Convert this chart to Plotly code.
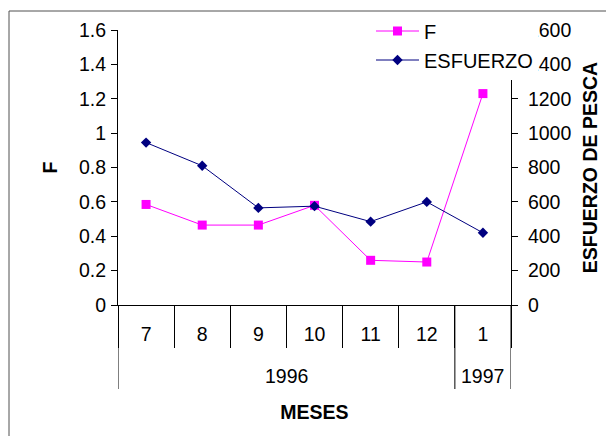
import plotly.graph_objects as go

# ---- data ----
years = ["1996", "1996", "1996", "1996", "1996", "1996", "1997"]
months = ["7", "8", "9", "10", "11", "12", "1"]
f_values = [0.585, 0.465, 0.465, 0.58, 0.26, 0.25, 1.23]
esfuerzo_values = [945, 810, 565, 575, 485, 600, 420]
f_tickvals = [0, 0.2, 0.4, 0.6, 0.8, 1.0, 1.2, 1.4, 1.6]
f_ticktext = ["0", "0.2", "0.4", "0.6", "0.8", "1", "1.2", "1.4", "1.6"]
esf_tickvals = [0, 200, 400, 600, 800, 1000, 1200, 1400, 1600]

W, H = 606, 436
L, R, T, B = 118, 511, 30, 305
PW, PH = R - L, B - T
FONT = "Liberation Sans, Arial, sans-serif"
FS = 19.5


def px_x(p):
    return (p - L) / PW


def px_y(p):
    return (B - p) / PH


# group consecutive months by year (outer category level)
groups = []
for i, yr in enumerate(years):
    if groups and groups[-1][0] == yr:
        groups[-1][2] = i
    else:
        groups.append([yr, i, i])

fig = go.Figure()
fig.add_trace(go.Scatter(
    x=months, y=f_values, name="F", mode="lines+markers",
    line=dict(color="#FF00FF", width=1),
    marker=dict(symbol="square", size=9, color="#FF00FF"),
    yaxis="y"))
fig.add_trace(go.Scatter(
    x=months, y=esfuerzo_values, name="ESFUERZO", mode="lines+markers",
    line=dict(color="#000080", width=1),
    marker=dict(symbol="diamond", size=8, color="#000080"),
    yaxis="y2"))

axis_common = dict(showgrid=False, zeroline=False, linecolor="black", linewidth=1,
                   tickcolor="black", tickwidth=1, tickfont=dict(size=FS, color="black"))

annotations = []
shapes = []
for yr, s, e in groups:
    annotations.append(dict(text=yr, xref="x", yref="paper", x=(s + e) / 2, y=px_y(376),
                            xanchor="center", yanchor="middle", showarrow=False,
                            font=dict(size=FS, color="black")))
    shapes.append(dict(type="line", xref="x", yref="paper", x0=s - 0.5, x1=s - 0.5,
                       y0=0, y1=px_y(389), line=dict(color="black", width=1)))
shapes.append(dict(type="line", xref="x", yref="paper",
                   x0=groups[-1][2] + 0.5, x1=groups[-1][2] + 0.5,
                   y0=0, y1=px_y(389), line=dict(color="black", width=1)))
# outer chart-area border
shapes.append(dict(type="rect", xref="paper", yref="paper",
                   x0=px_x(9), x1=px_x(640), y0=px_y(470), y1=px_y(11),
                   line=dict(color="#505050", width=1), layer="above"))

fig.update_layout(
    width=W, height=H,
    margin=dict(l=L, r=W - R, t=T, b=H - B, pad=0),
    paper_bgcolor="white", plot_bgcolor="white",
    font=dict(family=FONT, size=FS, color="black"),
    xaxis=dict(type="category", categoryorder="array", categoryarray=months,
               range=[-0.5, len(months) - 0.5], showline=True,
               ticks="outside", tickson="boundaries", ticklen=42, ticklabelstandoff=12,
               title=dict(text="<b>MESES</b>", font=dict(size=FS), standoff=60),
               automargin=False, **axis_common),
    yaxis=dict(range=[0, 1.6], tickvals=f_tickvals, ticktext=f_ticktext,
               showline=True, ticks="outside", ticklen=6, ticklabelstandoff=1,
               title=dict(text="<b>F</b>", font=dict(size=FS), standoff=16),
               automargin=False, **axis_common),
    yaxis2=dict(range=[0, 1600], tickvals=esf_tickvals, overlaying="y", side="right",
                anchor="x", showline=True, ticks="outside", ticklen=6, ticklabelstandoff=6,
                title=dict(text="<b>ESFUERZO DE PESCA</b>", font=dict(size=FS), standoff=12),
                automargin=False, **axis_common),
    yaxis3=dict(range=[0, 1.6], tickvals=f_tickvals, overlaying="y", side="left",
                anchor="x", showline=False, ticks="inside", ticklen=6,
                showticklabels=False, **axis_common),
    yaxis4=dict(range=[0, 1600], tickvals=esf_tickvals, overlaying="y", side="right",
                anchor="x", showline=False, ticks="inside", ticklen=6,
                showticklabels=False, **axis_common),
    legend=dict(x=px_x(371), y=px_y(11.5), xanchor="left", yanchor="top",
                bgcolor="white", borderwidth=0, itemwidth=43,
                font=dict(size=20, color="black")),
    annotations=annotations,
    shapes=shapes,
)

fig.write_html("out.html", config={"displayModeBar": False},
               post_script="document.body.style.margin='0px';")
